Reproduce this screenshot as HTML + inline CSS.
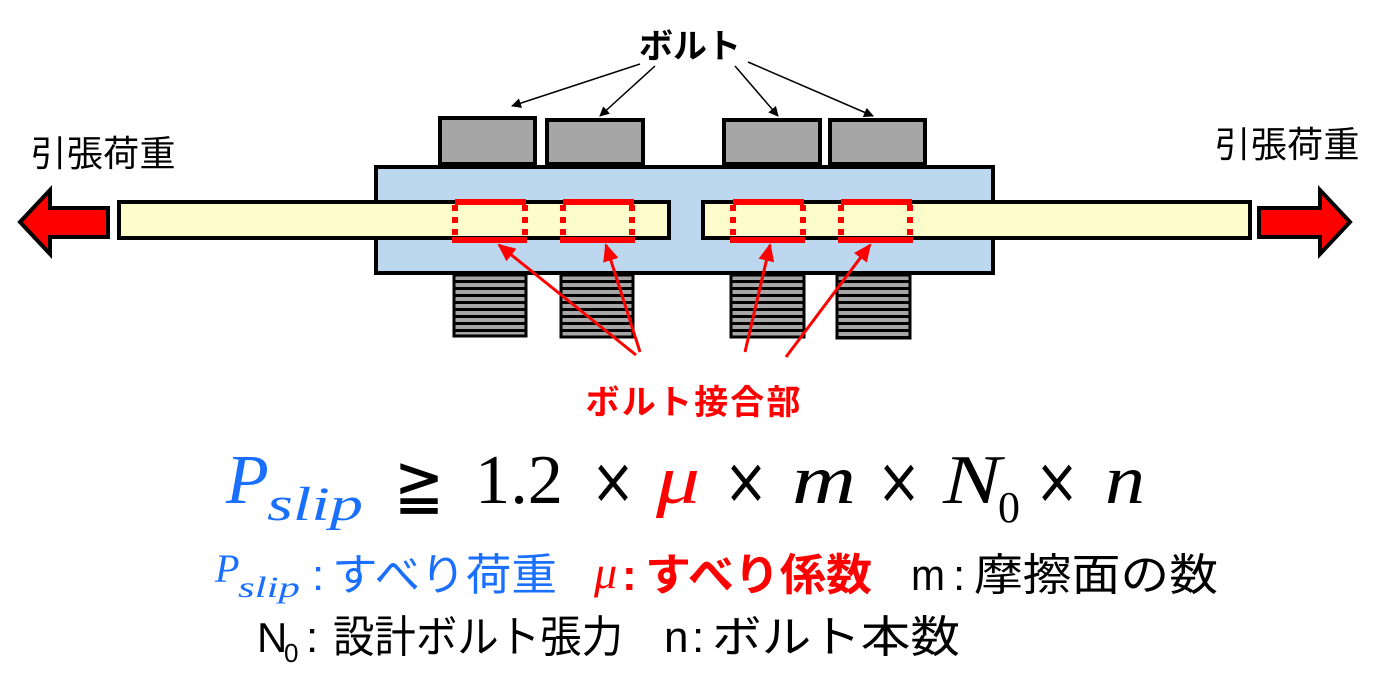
<!DOCTYPE html>
<html><head><meta charset="utf-8"><style>
html,body{margin:0;padding:0;background:#fff;}
svg{display:block;}
.jp{font-family:"Liberation Sans","Noto Sans CJK JP",sans-serif;}
.m{font-family:"Liberation Serif","DejaVu Serif",serif;font-style:italic;}
.x{font-family:"DejaVu Sans",sans-serif;}
</style></head><body>
<svg width="1388" height="696" viewBox="0 0 1388 696" xmlns="http://www.w3.org/2000/svg">
<defs>
<marker id="ab" markerWidth="10" markerHeight="10" refX="9" refY="5" orient="auto" markerUnits="userSpaceOnUse"><path d="M0,0 L10,5 L0,10 z" fill="#000"/></marker>
<marker id="ar" markerWidth="18" markerHeight="16" refX="16" refY="8" orient="auto" markerUnits="userSpaceOnUse"><path d="M0,0 L18,8 L0,16 z" fill="#f00"/></marker>
<pattern id="th" width="10" height="7" patternUnits="userSpaceOnUse"><rect width="10" height="7" fill="#a6a6a6"/><rect y="0" width="10" height="3" fill="#000"/></pattern>
</defs>
<rect x="376" y="167" width="617" height="106" fill="#bdd7ee" stroke="#000" stroke-width="4"/>
<rect x="440" y="118" width="95" height="46" fill="#a6a6a6" stroke="#000" stroke-width="4"/>
<rect x="547" y="120" width="96" height="44" fill="#a6a6a6" stroke="#000" stroke-width="4"/>
<rect x="724" y="120" width="96" height="44" fill="#a6a6a6" stroke="#000" stroke-width="4"/>
<rect x="830" y="120" width="95" height="44" fill="#a6a6a6" stroke="#000" stroke-width="4"/>
<rect x="454" y="275" width="72" height="61" fill="url(#th)" stroke="#000" stroke-width="3"/>
<rect x="561" y="275" width="72" height="62" fill="url(#th)" stroke="#000" stroke-width="3"/>
<rect x="731" y="275" width="73" height="62" fill="url(#th)" stroke="#000" stroke-width="3"/>
<rect x="837" y="275" width="73" height="63" fill="url(#th)" stroke="#000" stroke-width="3"/>
<rect x="119" y="202" width="550" height="36" fill="#fffccc" stroke="#000" stroke-width="4"/>
<rect x="703" y="202" width="547" height="36" fill="#fffccc" stroke="#000" stroke-width="4"/>
<g stroke="#f00" fill="none">
<g stroke-width="6">
<line x1="455" y1="202" x2="526" y2="202"/><line x1="452" y1="240" x2="527" y2="240"/>
<line x1="563" y1="202" x2="634" y2="202"/><line x1="560" y1="240" x2="635" y2="240"/>
<line x1="733" y1="202" x2="804" y2="202"/><line x1="730" y1="240" x2="805" y2="240"/>
<line x1="841" y1="202" x2="912" y2="202"/><line x1="838" y1="240" x2="913" y2="240"/>
</g>
<g stroke-width="6" stroke-dasharray="6,6">
<line x1="455" y1="205" x2="455" y2="238"/><line x1="525" y1="205" x2="525" y2="238"/>
<line x1="563" y1="205" x2="563" y2="238"/><line x1="632" y1="205" x2="632" y2="238"/>
<line x1="733" y1="205" x2="733" y2="238"/><line x1="803" y1="205" x2="803" y2="238"/>
<line x1="841" y1="205" x2="841" y2="238"/><line x1="910" y1="205" x2="910" y2="238"/>
</g>
</g>
<path d="M108,208 L50,208 L50,190 L20,222 L50,254 L50,237 L108,237 Z" fill="#f00" stroke="#000" stroke-width="4"/>
<path d="M1259,208 L1320,208 L1320,190 L1350,222 L1320,254 L1320,237 L1259,237 Z" fill="#f00" stroke="#000" stroke-width="4"/>
<g stroke="#000" stroke-width="1.5">
<line x1="640" y1="64" x2="512" y2="106" marker-end="url(#ab)"/>
<line x1="655" y1="66" x2="600" y2="116" marker-end="url(#ab)"/>
<line x1="735" y1="66" x2="778" y2="116" marker-end="url(#ab)"/>
<line x1="748" y1="62" x2="873" y2="116" marker-end="url(#ab)"/>
</g>
<g stroke="#f00" stroke-width="3">
<line x1="636" y1="355" x2="499" y2="245" marker-end="url(#ar)"/>
<line x1="640" y1="352" x2="606" y2="245" marker-end="url(#ar)"/>
<line x1="745" y1="352" x2="770" y2="245" marker-end="url(#ar)"/>
<line x1="786" y1="357" x2="870" y2="245" marker-end="url(#ar)"/>
</g>
<text class="jp" x="690" y="58" font-size="34" font-weight="bold" text-anchor="middle">ボルト</text>
<text class="jp" x="103" y="166" font-size="36" text-anchor="middle" textLength="145">引張荷重</text>
<text class="jp" x="1287" y="157" font-size="36" text-anchor="middle" textLength="145">引張荷重</text>
<text class="jp" x="693" y="414" font-size="34" font-weight="bold" fill="#f00" text-anchor="middle" textLength="215">ボルト接合部</text>
<g font-size="70">
<text class="m" x="226" y="503" fill="#1a6fff">P</text>
<text class="m" x="267" y="520" font-size="48" fill="#1a6fff" textLength="96" lengthAdjust="spacingAndGlyphs">slip</text>
<text class="x" x="394" y="508" font-size="70" textLength="50" lengthAdjust="spacingAndGlyphs">≧</text>
<text x="475" y="503" font-family="Liberation Serif,serif" textLength="88" lengthAdjust="spacingAndGlyphs">1.2</text>
<text class="x" x="591" y="503" font-size="64" textLength="44" lengthAdjust="spacingAndGlyphs">×</text>
<text class="m" x="656" y="503" fill="#f00" textLength="44" lengthAdjust="spacingAndGlyphs">μ</text>
<text class="x" x="724" y="503" font-size="64" textLength="44" lengthAdjust="spacingAndGlyphs">×</text>
<text class="m" x="792" y="503" textLength="64" lengthAdjust="spacingAndGlyphs">m</text>
<text class="x" x="877" y="503" font-size="64" textLength="44" lengthAdjust="spacingAndGlyphs">×</text>
<text class="m" x="943" y="503" textLength="58" lengthAdjust="spacingAndGlyphs">N</text>
<text x="998" y="522" font-family="Liberation Serif,serif" font-size="44">0</text>
<text class="x" x="1035" y="503" font-size="64" textLength="44" lengthAdjust="spacingAndGlyphs">×</text>
<text class="m" x="1105" y="503" textLength="40" lengthAdjust="spacingAndGlyphs">n</text>
</g>
<g class="jp" font-size="44">
<text class="m" x="215" y="582" fill="#1a6fff" font-size="40">P</text>
<text class="m" x="238" y="597" fill="#1a6fff" font-size="30" textLength="62" lengthAdjust="spacingAndGlyphs">slip</text>
<text x="312" y="590" fill="#1a6fff">:</text>
<text x="332" y="590" fill="#1a6fff" textLength="225" lengthAdjust="spacingAndGlyphs">すべり荷重</text>
<text class="m" x="594" y="588" fill="#f00" font-size="46">μ</text>
<text x="622" y="590" fill="#f00" font-weight="bold">:</text>
<text x="645" y="590" fill="#f00" font-weight="bold" textLength="227" lengthAdjust="spacingAndGlyphs">すべり係数</text>
<text x="911" y="590" textLength="34" lengthAdjust="spacingAndGlyphs">m</text>
<text x="953" y="590">:</text>
<text x="974" y="590" textLength="244" lengthAdjust="spacingAndGlyphs">摩擦面の数</text>
<text x="257" y="652" font-size="42">N</text>
<text x="284" y="662" font-size="26">0</text>
<text x="306" y="652">:</text>
<text x="333" y="652" textLength="290" lengthAdjust="spacingAndGlyphs">設計ボルト張力</text>
<text x="664" y="652">n</text>
<text x="692" y="652">:</text>
<text x="712" y="652" textLength="248" lengthAdjust="spacingAndGlyphs">ボルト本数</text>
</g>
</svg>
</body></html>
